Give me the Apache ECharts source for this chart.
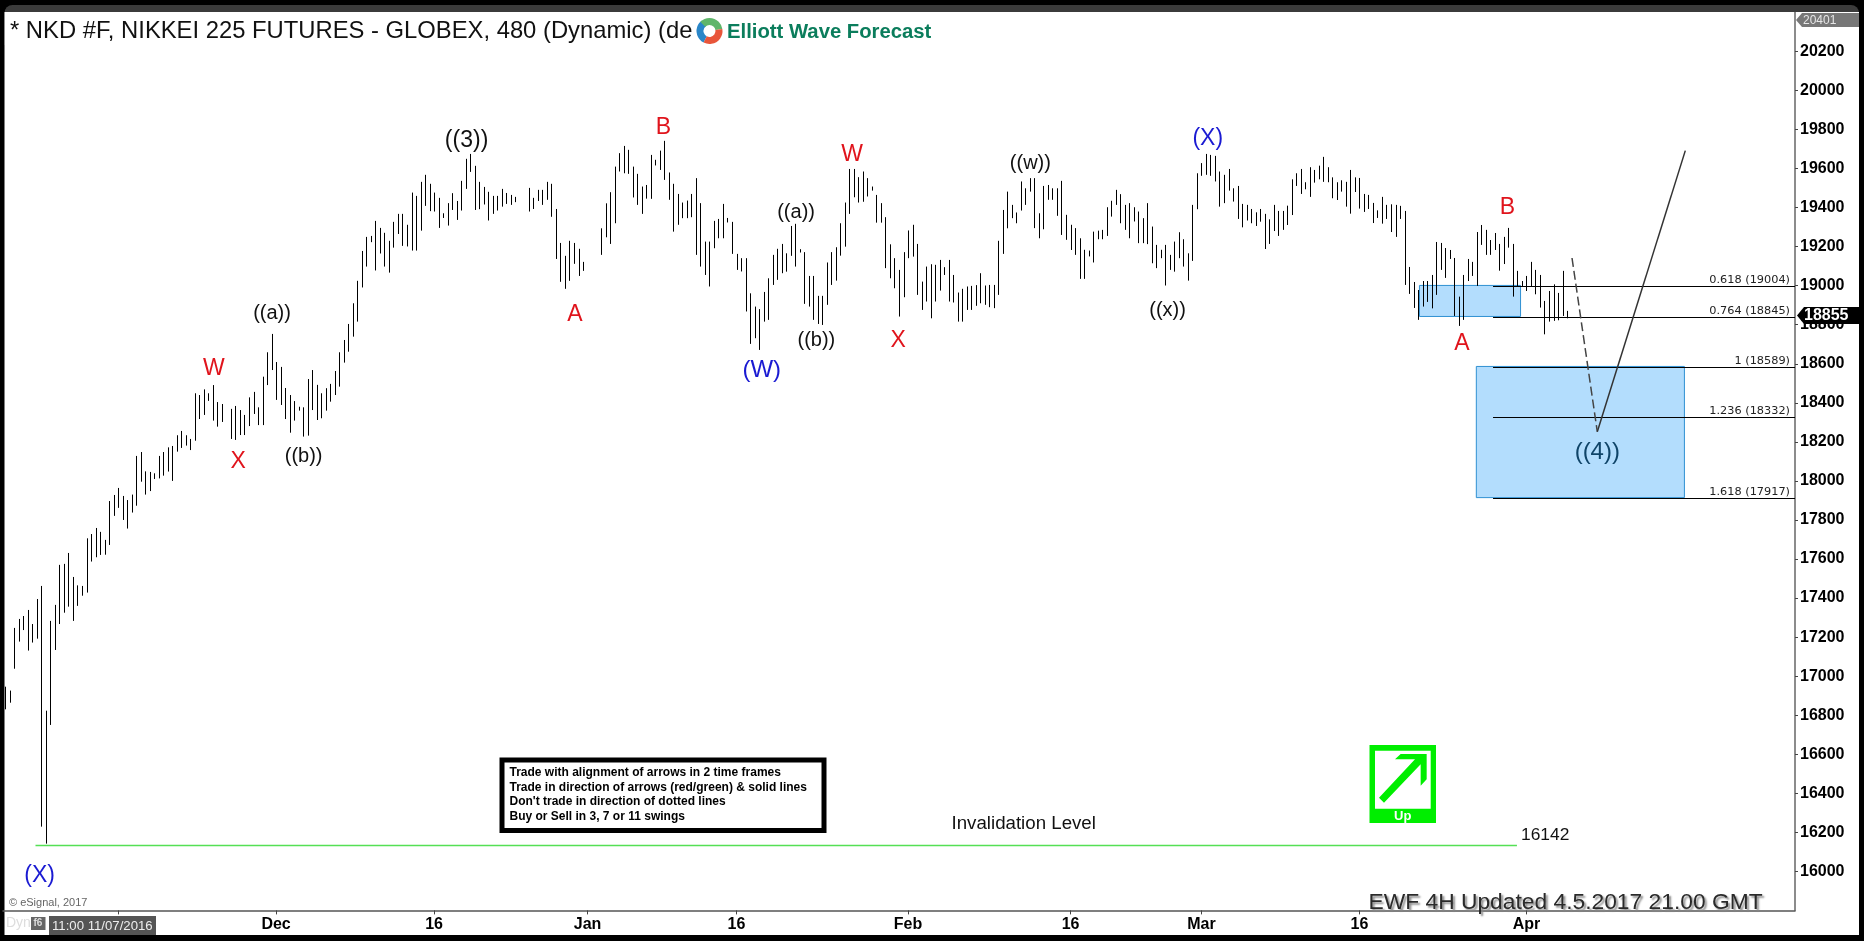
<!DOCTYPE html>
<html><head><meta charset="utf-8">
<style>html,body{margin:0;padding:0;background:#000;overflow:hidden}#c{width:1864px;height:941px}</style>
<script src="https://cdn.jsdelivr.net/npm/echarts@6/dist/echarts.min.js"></script>
</head><body><div id="c"></div>
<script>
const barHighs = [
16946,16926,
17247,17293,17308,17339,17267,17395,17462,16823,17283,17365,17570,17575,17631,17508,17465,17462,17706,17728,17759,17739,17698,17897,17928,17964,17923,17902,17930,
18128,18148,18049,18046,18039,18128,18148,18172,18179,18234,18256,18234,18215,18449,18440,18469,18449,18491,18404,18394,null,
18369,18384,18363,18338,18428,18456,18377,18534,18659,18753,18609,18584,18476,18440,18409,18380,
18377,18522,18568,18492,18449,18475,18497,18563,18659,18722,18804,18910,
19025,19178,19250,19255,19332,19296,19271,19230,19327,19368,19368,19312,19477,19460,19532,19568,19522,19477,19450,19371,19423,19474,19434,19537,19650,19675,19614,19532,19506,19481,19460,19460,19496,19475,19465,19455,null,null,
19501,19450,19491,19491,19532,19522,19393,19219,19153,19230,19219,19189,19122,null,null,null,
19294,19422,19479,19610,
19679,19716,19696,19610,19573,19508,19516,19670,19645,19692,19742,19580,19522,19470,19426,19436,19470,19551,19423,19226,19226,19332,19342,19419,19347,19327,19163,19141,19141,18961,18893,18880,18968,19038,19158,19189,19214,19166,19306,19317,19187,19172,19050,19050,18948,18948,19119,19172,19197,19320,19426,19598,19598,19556,19585,19551,19508,19465,19423,19351,19212,19141,19081,19172,19283,19312,19214,19021,19098,19110,19107,19132,19095,19132,19055,18965,18984,18996,18999,19003,19064,19001,19004,19004,19230,19388,19482,19414,19375,19534,19499,19551,19551,19371,19511,19516,19499,19499,19537,19363,19312,19295,19243,19184,19180,19277,19282,19286,19402,19435,19491,19469,19414,19423,19402,19380,19346,19423,19303,19209,19184,19209,19158,19226,19274,19238,19166,19414,19576,19628,19675,19670,19665,19585,19568,19598,19499,
19511,19419,19414,19393,19376,19393,19368,19340,19414,19383,19383,19410,19545,19576,19598,19530,19607,19593,19615,19660,19607,19555,19530,19540,19532,19593,19555,19552,19470,19465,19424,19386,19455,19414,19417,19414,19409,19383,19096,19019,18978,19024,19024,19055,19224,19219,19193,19183,19142,18944,19055,19137,19122,19275,19311,19286,19234,19270,19214,19250,19296,19214,19076,19024,19050,19122,19081,19055,18922,18973,19007,18963,19076,18871
];
const barLows = [
16830,16864,
17038,17177,17236,17131,17172,17192,16229,16142,16750,17134,17267,17325,17356,17283,17360,17412,17428,17587,17609,17621,17622,17672,17821,17862,17800,17756,17838,
17873,17996,17930,17948,18010,18013,18027,18048,18000,18150,18169,18181,18158,18206,18317,18338,18410,18309,18278,18302,null,
18215,18210,18235,18235,18281,18343,18286,18286,18491,18568,18415,18389,18317,18247,18309,18360,
18227,18232,18363,18312,18321,18360,18406,18440,18483,18606,18662,18739,
18816,18991,19098,19223,19078,19165,19098,19067,19195,19265,19204,19201,19180,19180,19282,19409,19382,19380,19296,19347,19308,19388,19337,19385,19496,19583,19388,19392,19416,19334,19368,19385,19405,19419,19414,19428,null,null,
19380,19393,19434,19414,19440,19353,19137,19020,18984,19025,19112,19050,19076,null,null,null,
19158,19248,19214,19320,
19585,19576,19573,19452,19414,19368,19446,19445,19616,19593,19542,19440,19277,19312,19346,19346,19351,19158,19098,19055,18996,19192,19243,19243,19324,19163,19081,19073,18868,18702,18731,18671,18816,18825,19004,19030,19064,19072,19153,19098,19170,18907,18893,18825,18804,18799,18902,19004,19026,19154,19200,19368,19453,19426,19430,19457,19487,19323,19323,19090,19038,18987,18842,18941,19141,19149,18953,18876,18919,18833,18919,18975,19055,18919,18914,18816,18816,18876,18876,18897,18910,18902,18890,18885,18953,19163,19294,19346,19320,19385,19414,19482,19295,19243,19289,19440,19440,19358,19260,19235,19183,19158,19035,19035,19150,19119,19238,19238,19255,19354,19414,19320,19286,19243,19329,19218,19218,19213,19115,19090,19141,19001,19081,19072,19141,19098,19026,19127,19392,19563,19568,19563,19534,19405,19423,19487,19431,
19342,19299,19334,19320,19306,19328,19188,19214,19280,19255,19286,19311,19362,19511,19470,19494,19455,19528,19545,19532,19530,19448,19439,19482,19405,19369,19480,19395,19378,19393,19321,19347,19318,19342,19275,19250,19342,19004,18958,18886,18825,18893,18917,18884,18953,19081,19040,19137,18845,18794,18825,19024,19050,18999,19209,19158,19158,19183,19077,19111,19195,18944,18995,18995,18973,18995,18956,18888,18751,18816,18820,18823,18845,18833
];
const xTickIdx = [25,60,95,129,162,200,236,265,300,337];
const xTickText = ['', 'Dec','16','Jan','16','Feb','16','Mar','16','Apr'];
const fibRatios = ['0.618','0.764','1','1.236','1.618'];
const fibValues = [19004,18845,18589,18332,17917];
const fibStartIdx = 329.6;
const zoneXFrom = [313.3,325.9];
const zoneXTo = [335.7,372];
const zoneTop = [19004,18589];
const zoneBottom = [18845,17917];
const waveText = ['((3))','((a))','W','X','((b))','A','B','W','((a))','((b))','(W)','X','((w))','((x))','(X)','B','A','((4))','(X)'];
const waveIdx = [102.2,59.1,46.2,51.6,66.1,126.2,145.8,187.6,175.2,179.7,167.6,197.8,227.1,257.5,266.4,332.8,322.7,352.7,7.6];
const waveVal = [19750,18864,18580,18107,18133,18859,19815,19679,19383,18727,18572,18726,19633,18880,19761,19405,18710,18150,15986];
const waveColor = ['#111','#111','#e0141c','#e0141c','#111','#e0141c','#e0141c','#e0141c','#111','#111','#1a1ad2','#e0141c','#111','#111','#1a1ad2','#e0141c','#e0141c','#0f4468','#1a1ad2'];
const waveSize = [23,20,23,23,20,23,23,23,20,20,24,23,20,20,23,23,23,24,23];
const pathDashIdx = [347.1,352.7];
const pathDashVal = [19142,18252];
const pathSolidIdx = [352.7,372.2];
const pathSolidVal = [18252,19692];
const invalidIdx = [6.7,334.9];
const invalidVal = 16142;

const SANS = '"Liberation Sans",Arial,sans-serif';
const bars = barHighs.map((h,i)=>h==null?null:[i,barLows[i],h]).filter(Boolean);

function crisp(v){return Math.round(v)+0.5;}

function t(x,y,text,font,fill,extra,z){
  return {type:'text',z:z||20,x:x,y:y,style:Object.assign({text:text,font:font,fill:fill,textAlign:'left',textVerticalAlign:'middle'},extra||{}),silent:true};
}
const ax=(zx)=>1360+zx/3, ay=(zy)=>735+zy/3;
const arrowPts=[[122,57],[200,57],[200,133],[182,152],[182,88],[72,203],[57,188],[165,73],[105,73]].map(p=>[ax(p[0]),ay(p[1])]);

const graphicEls=[
 {type:'rect',z:-10,silent:true,shape:{x:4.5,y:5,width:1854.5,height:40,r:[8,8,0,0]},style:{fill:'#3b3b3b'}},
 {type:'rect',z:-9,silent:true,shape:{x:4.5,y:12,width:1854.5,height:923},style:{fill:'#fff'}},
 t(10,31.5,'* NKD #F, NIKKEI 225 FUTURES - GLOBEX, 480 (Dynamic) (de','23.8px '+SANS,'#111',null,4),
 {type:'rect',z:5,silent:true,shape:{x:692.5,y:13,width:245,height:36},style:{fill:'#fff'}},
 {type:'arc',z:6,silent:true,shape:{cx:709.5,cy:31,r:9.5,startAngle:Math.PI*0.65,endAngle:Math.PI*1.3},style:{stroke:'#2a86c8',lineWidth:7,fill:null}},
 {type:'arc',z:6,silent:true,shape:{cx:709.5,cy:31,r:9.5,startAngle:Math.PI*1.25,endAngle:Math.PI*1.95},style:{stroke:'#5fb56a',lineWidth:7,fill:null}},
 {type:'arc',z:6,silent:true,shape:{cx:709.5,cy:31,r:9.5,startAngle:Math.PI*1.95,endAngle:Math.PI*2.65},style:{stroke:'#e8553a',lineWidth:7,fill:null}},
 t(727,32.5,'Elliott Wave Forecast','bold 20.3px '+SANS,'#0b7d5c',null,6),
 {type:'polygon',z:10,silent:true,shape:{points:[[1796,20],[1802,13],[1859,13],[1859,27],[1802,27]]},style:{fill:'#777'}},
 t(1803,20.5,'20401','12px '+SANS,'#e6e6e6'),
 {type:'polygon',z:10,silent:true,shape:{points:[[1797,315.5],[1804,307],[1859,307],[1859,324],[1804,324]]},style:{fill:'#000'}},
 t(1804,315.5,'18855','bold 16px '+SANS,'#fff'),
 {type:'rect',z:10,silent:true,shape:{x:502,y:760,width:322,height:70.5},style:{fill:'#fff',stroke:'#000',lineWidth:5}},
 t(509.5,773,'Trade with alignment of arrows in 2 time frames','bold 12px '+SANS,'#000'),
 t(509.5,787.5,"Trade in direction of arrows (red/green) & solid lines",'bold 12px '+SANS,'#000'),
 t(509.5,802,"Don't trade in direction of dotted lines",'bold 12px '+SANS,'#000'),
 t(509.5,816.5,'Buy or Sell in 3, 7 or 11 swings','bold 12px '+SANS,'#000'),
 t(951.5,823.5,'Invalidation Level','18.7px '+SANS,'#111'),
 t(1521,835.5,'16142','17.4px '+SANS,'#111'),
 {type:'rect',z:10,silent:true,shape:{x:1369.5,y:745,width:66.5,height:78},style:{fill:'#00ee00'}},
 {type:'rect',z:11,silent:true,shape:{x:1375,y:750.7,width:55.7,height:58},style:{fill:'#fff'}},
 {type:'polygon',z:12,silent:true,shape:{points:arrowPts},style:{fill:'#00ee00'}},
 t(1402.7,816,'Up','bold 13px '+SANS,'#fff',{textAlign:'center'},12),
 t(1368.5,902.5,'EWF 4H Updated 4.5.2017 21.00 GMT','22.8px '+SANS,'#2a2a2a',{textShadowColor:'#888',textShadowBlur:2,textShadowOffsetX:2,textShadowOffsetY:2}),
 t(9,903,'© eSignal, 2017','11px '+SANS,'#666'),
 t(6,923,'Dyn','14px '+SANS,'#ddd'),
 {type:'rect',z:10,silent:true,shape:{x:31,y:917,width:14.5,height:13},style:{fill:'#666'}},
 t(33.5,923.5,'f6','bold 10px '+SANS,'#ddd',null,11),
 {type:'rect',z:10,silent:true,shape:{x:49,y:916,width:107,height:19},style:{fill:'#555'}},
 t(52,926,'11:00 11/07/2016','13.2px '+SANS,'#eee',null,11)
];

const chart=echarts.init(document.getElementById('c'),null,{width:1864,height:941});
chart.setOption({
 animation:false,
 backgroundColor:'transparent',
 grid:{left:3,top:12.4,width:1792,height:898,containLabel:false,show:false},
 xAxis:{type:'value',min:-0.5,max:396.5,position:'bottom',splitLine:{show:false},
   axisLine:{show:true,lineStyle:{color:'#555',width:1.5}},
   axisTick:{show:true,customValues:xTickIdx,length:4,lineStyle:{color:'#444',width:1}},
   axisLabel:{show:true,customValues:xTickIdx,margin:6,color:'#000',fontFamily:SANS,fontWeight:'bold',fontSize:16,hideOverlap:false,
     formatter:(v)=>{const k=xTickIdx.indexOf(Math.round(v));return k<0?'':xTickText[k];}}},
 yAxis:{type:'value',min:15800,max:20400,interval:200,position:'right',splitLine:{show:false},
   axisLine:{show:true,onZero:false,lineStyle:{color:'#666',width:1.5}},
   axisTick:{show:true,length:3,lineStyle:{color:'#444',width:1}},
   axisLabel:{show:true,margin:5,color:'#000',fontFamily:SANS,fontWeight:'bold',fontSize:16,align:'left',verticalAlign:'middle',padding:[2,0,0,0],showMinLabel:false,showMaxLabel:false,
     formatter:(v)=>String(v)}},
 graphic:{elements:graphicEls},
 series:[
  {type:'custom',name:'zones',z:1,clip:false,silent:true,coordinateSystem:'cartesian2d',
   data:zoneXFrom.map((x,i)=>[x,zoneXTo[i],zoneTop[i],zoneBottom[i]]),
   encode:{x:[0,1],y:[2,3]},
   renderItem:(p,api)=>{const a=api.coord([api.value(0),api.value(2)]),b=api.coord([api.value(1),api.value(3)]);
     return {type:'rect',shape:{x:a[0],y:a[1]+0.5,width:b[0]-a[0],height:b[1]-a[1]},style:{fill:'#b3ddfd',stroke:'#2f90d2',lineWidth:1}};}},
  {type:'custom',name:'fib',z:2,clip:false,silent:true,coordinateSystem:'cartesian2d',
   data:fibValues.map((v,i)=>[fibStartIdx,v,i]),encode:{x:0,y:1},
   renderItem:(p,api)=>{const v=api.value(1),i=api.value(2),a=api.coord([api.value(0),v]),e=api.coord([396.5,v]);const y=crisp(a[1])+1;
     return {type:'group',children:[
       {type:'line',shape:{x1:a[0],y1:y,x2:e[0],y2:y},style:{stroke:'#000',lineWidth:1}},
       {type:'text',x:e[0]-5,y:a[1]+0.5,style:{text:fibRatios[i]+' ('+v+')',font:'11.3px "DejaVu Sans",sans-serif',fill:'#222',textAlign:'right',textVerticalAlign:'bottom'}}]};}},
  {type:'custom',name:'bars',z:3,clip:true,silent:true,coordinateSystem:'cartesian2d',data:bars,encode:{x:0,y:[1,2]},
   renderItem:(p,api)=>{const a=api.coord([api.value(0),api.value(1)]),b=api.coord([api.value(0),api.value(2)]);const x=crisp(a[0]);
     return {type:'line',shape:{x1:x,y1:a[1],x2:x,y2:b[1]},style:{stroke:'#000',lineWidth:1}};}},
  {type:'custom',name:'invalidation',z:2,clip:false,silent:true,coordinateSystem:'cartesian2d',
   data:[[invalidIdx[0],invalidVal,invalidIdx[1]]],encode:{x:[0,2],y:1},
   renderItem:(p,api)=>{const a=api.coord([api.value(0),api.value(1)]),b=api.coord([api.value(2),api.value(1)]);const y=crisp(a[1])+1;
     return {type:'line',shape:{x1:a[0],y1:y,x2:b[0],y2:y},style:{stroke:'#55e055',lineWidth:1.5}};}},
  {type:'line',name:'pathDown',z:4,silent:true,showSymbol:false,symbol:'none',data:pathDashIdx.map((x,i)=>[x,pathDashVal[i]]),lineStyle:{color:'#444',width:1.5,type:[9,4]}},
  {type:'line',name:'pathUp',z:4,silent:true,showSymbol:false,symbol:'none',data:pathSolidIdx.map((x,i)=>[x,pathSolidVal[i]]),lineStyle:{color:'#333',width:1.5}},
  {type:'custom',name:'waves',z:5,clip:false,silent:true,coordinateSystem:'cartesian2d',
   data:waveIdx.map((x,i)=>[x,waveVal[i],i]),encode:{x:0,y:1},
   renderItem:(p,api)=>{const i=api.value(2),a=api.coord([api.value(0),api.value(1)]);
     return {type:'text',x:a[0],y:a[1]+1.2,style:{text:waveText[i],font:waveSize[i]+'px '+SANS,fill:waveColor[i],textAlign:'center',textVerticalAlign:'middle'}};}}
 ]
});
</script></body></html>
